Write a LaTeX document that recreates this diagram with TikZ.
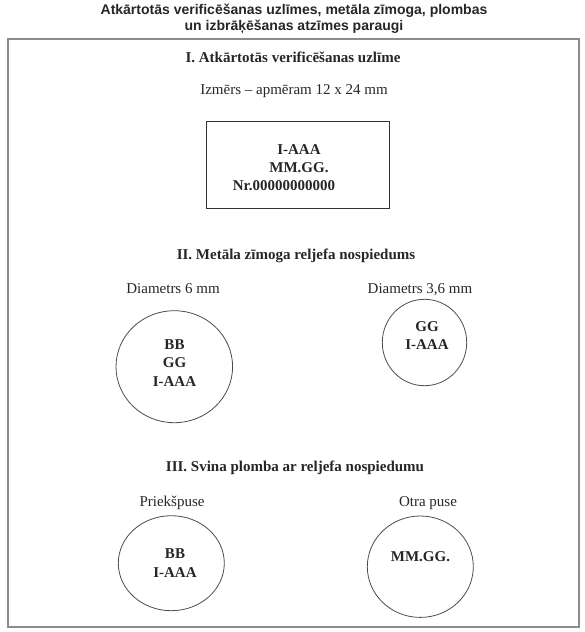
\documentclass[tikz,border=0pt]{standalone}
\usepackage{fontspec}
\setmainfont{Liberation Serif}
\newfontfamily\titlefont{Liberation Sans}
\usetikzlibrary{shapes.geometric}

\tikzset{
  plain/.style={font=\fontsize{15}{18.5}\selectfont, text=black!85, inner sep=0pt},
  heading/.style={plain, font=\fontsize{15}{18.5}\selectfont\bfseries},
  stamptext/.style={plain, font=\fontsize{15}{18.5}\selectfont\bfseries, align=center},
  seal/.style={draw=black!70, line width=0.8pt, ellipse, inner sep=0pt}
}

\begin{document}
\begin{tikzpicture}[x=1pt,y=-1pt]
\useasboundingbox (0,0) rectangle (585,632);
% title above the frame
\draw (294,30) node[anchor=base, align=center, inner sep=0pt, text=black!85,
  font=\titlefont\bfseries\fontsize{14}{15.5}\selectfont](title)
  {Atkārtotās verificēšanas uzlīmes, metāla zīmoga, plombas\\un izbrāķēšanas atzīmes paraugi};
\draw[draw=black!45, line width=2pt] (8,39) rectangle (579,627);

% I. sticker
\draw (293,62) node[heading, anchor=base](headI) {I. Atkārtotās verificēšanas uzlīme};
\draw (294,94) node[plain, anchor=base](size) {Izmērs – apmēram 12 x 24 mm};
\draw (298,165) node[draw=black!80, line width=0.8pt, minimum width=182.6pt, minimum height=86.6pt](sticker) {};
\draw (299,158.5) node[stamptext](stickertop) {I-AAA\\MM.GG.};
\draw (284,190) node[stamptext, anchor=base](stickernr) {Nr.00000000000};

% II. metal seal
\draw (296,259) node[heading, anchor=base](headII) {II. Metāla zīmoga reljefa nospiedums};
\draw (173,293) node[plain, anchor=base](diambig) {Diametrs 6 mm};
\draw (420,293) node[plain, anchor=base](diamsmall) {Diametrs 3,6 mm};
\draw (174.3,366.7) node[seal, minimum width=116.6pt, minimum height=112pt](bigseal) {};
\draw (174.5,363) node[stamptext](bigtext) {BB\\GG\\I-AAA};
\draw (424.5,342.5) node[seal, minimum width=84.4pt, minimum height=86.4pt](smallseal) {};
\draw (427,335.5) node[stamptext](smalltext) {GG\\I-AAA};

% III. lead seal
\draw (295,471) node[heading, anchor=base](headIII) {III. Svina plomba ar reljefa nospiedumu};
\draw (172,506) node[plain, anchor=base](front) {Priekšpuse};
\draw (428,506) node[plain, anchor=base](back) {Otra puse};
\draw (171.3,563.2) node[seal, minimum width=106pt, minimum height=95pt](frontseal) {};
\draw (175,563) node[stamptext](fronttext) {BB\\I-AAA};
\draw (420.3,566.7) node[seal, minimum width=106pt, minimum height=101.4pt](backseal) {};
\draw (420.5,557) node[stamptext](backtext) {MM.GG.};
\end{tikzpicture}
\end{document}
